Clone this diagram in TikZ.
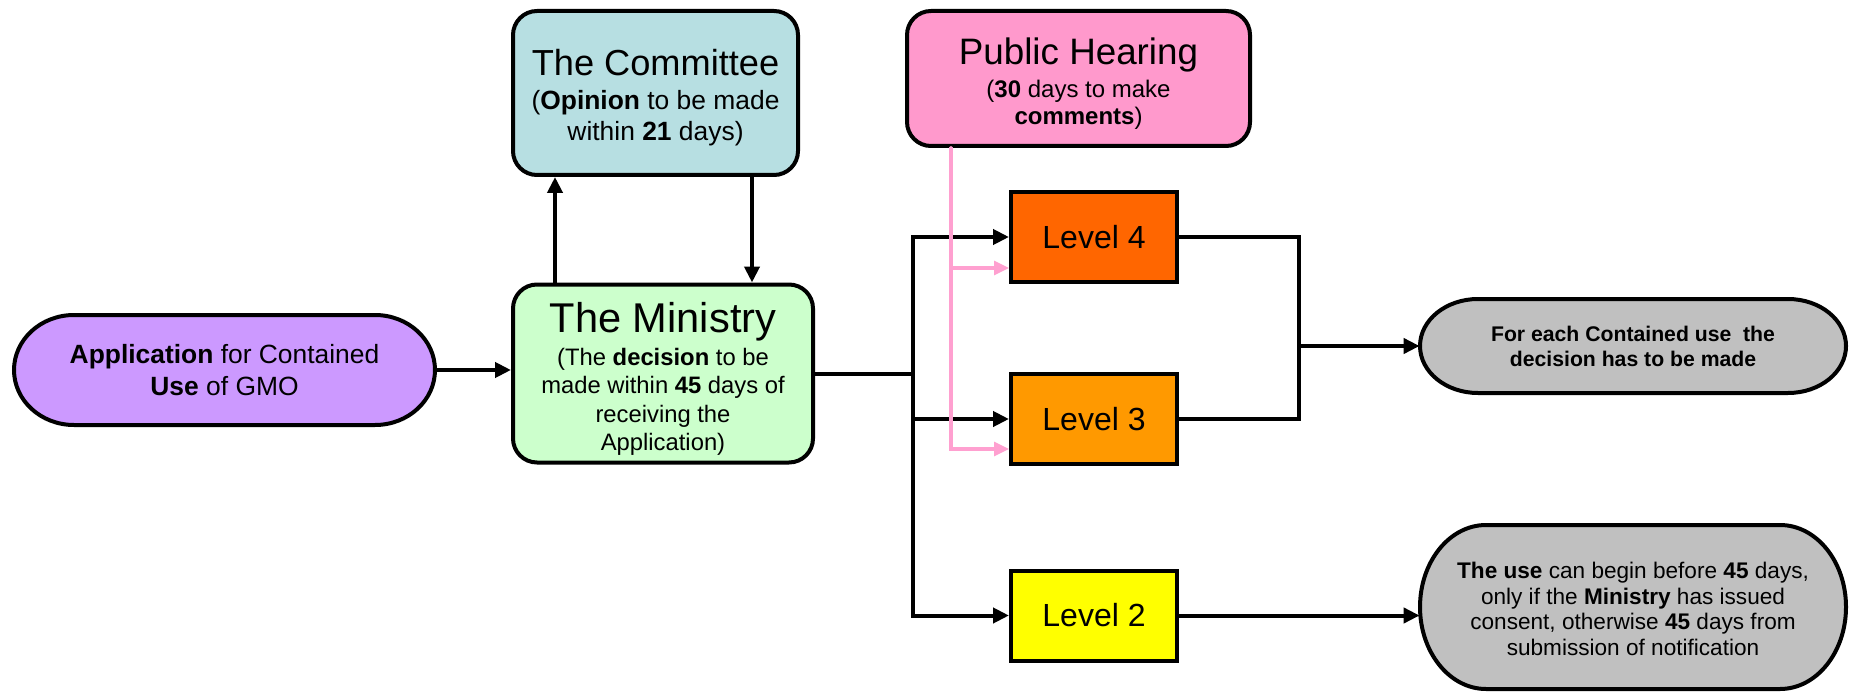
\documentclass[tikz,border=0pt]{standalone}
\usepackage{fontspec}
\setmainfont{Liberation Sans}
\usetikzlibrary{arrows.meta}

\begin{document}
\begin{tikzpicture}
		[x=0.5pt,y=0.5pt,line cap=round,
		%Styles
		box/.style={draw,line width=2pt,align=center,inner sep=0pt},
		office/.style={box,rounded corners=12pt},
		level/.style={box,minimum width=83pt,minimum height=45pt,font=\fontsize{16}{19}\selectfont},
		terminal/.style={draw,line width=2pt},
		flow/.style={line width=2pt,-{Triangle[length=8pt,width=7.5pt]}},
		link/.style={line width=2pt},
		comment/.style={draw=commentpink,line width=1.6pt,-{Triangle[length=7.5pt,width=7pt]}}
		]
		
		%Colors
		\definecolor{appviolet}{HTML}{CC99FF}
		\definecolor{ministrygreen}{HTML}{CCFFCC}
		\definecolor{committeeblue}{HTML}{B7DFE2}
		\definecolor{hearingpink}{HTML}{FF99CC}
		\definecolor{commentpink}{HTML}{FFA0D0}
		\definecolor{levelfour}{HTML}{FF6600}
		\definecolor{levelthree}{HTML}{FF9900}
		\definecolor{leveltwo}{HTML}{FFFF00}
		\definecolor{resultgray}{HTML}{C0C0C0}
		
		\useasboundingbox (0,0) rectangle (1851,692);
		
		%Terminator outlines
		\filldraw[terminal,fill=appviolet] (74,377) -- (375,377) arc[start angle=90,end angle=-90,x radius=60,y radius=55] -- (74,267) arc[start angle=270,end angle=90,x radius=60,y radius=55] -- cycle;
		\filldraw[terminal,fill=resultgray] (1478,393) -- (1788,393) arc[start angle=90,end angle=-90,x radius=58,y radius=47] -- (1478,299) arc[start angle=270,end angle=90,x radius=58,y radius=47] -- cycle;
		\filldraw[terminal,fill=resultgray] (1486,167) -- (1780,167) arc[start angle=90,end angle=-90,x radius=66,y radius=82] -- (1486,3) arc[start angle=270,end angle=90,x radius=66,y radius=82] -- cycle;
		
		%The graphic
		\node[align=center,inner sep=0pt,minimum width=210.5pt,minimum height=55pt,font=\fontsize{13.2}{15.8}\selectfont] (app) at (224.5,322) {\textbf{Application} for Contained\\\textbf{Use} of GMO};
		
		\node[office,fill=ministrygreen,minimum width=150pt,minimum height=89pt,font=\fontsize{11.9}{14.25}\selectfont] (ministry) at (663,318.5) {\rule{0pt}{20.3pt}{\fontsize{20.8}{24}\selectfont The Ministry}\\[2.25pt](The \textbf{decision} to be\\made within \textbf{45} days of\\receiving the\\Application)};
		
		\node[office,fill=committeeblue,minimum width=142.5pt,minimum height=82pt,font=\fontsize{13.2}{15.5}\selectfont] (committee) at (655.5,599) {\rule{0pt}{17.5pt}{\fontsize{18.1}{21}\selectfont The Committee}\\[1.5pt](\textbf{Opinion} to be made\\within \textbf{21} days)};
		
		\node[office,fill=hearingpink,minimum width=171.5pt,minimum height=67.5pt,font=\fontsize{12}{13.5}\selectfont] (hearing) at (1078.5,613.5) {\rule{0pt}{18.25pt}{\fontsize{18.4}{21}\selectfont Public Hearing}\\[3pt](\textbf{30} days to make\\\textbf{comments})};
		
		\node[level,fill=levelfour] (lvl4) at (1094,455) {Level 4};
		\node[level,fill=levelthree] (lvl3) at (1094,273) {Level 3};
		\node[level,fill=leveltwo] (lvl2) at (1094,76.5) {Level 2};
		
		\node[align=center,inner sep=0pt,minimum width=213pt,minimum height=47pt,font=\bfseries\fontsize{10.6}{12.5}\selectfont] (gray1) at (1633,346) {For each Contained use~ the\\decision has to be made};
		\node[align=center,inner sep=0pt,minimum width=213pt,minimum height=82pt,font=\fontsize{11.3}{12.75}\selectfont] (gray2) at (1633,83) {\textbf{The use} can begin before \textbf{45} days,\\only if the \textbf{Ministry} has issued\\consent, otherwise \textbf{45} days from\\submission of notification};
		
		\coordinate (split) at (913,318.5);
		\coordinate (merge) at (1299,346);
		
		\draw[flow] (app.east) -- (app.east -| ministry.west);
		\draw[flow] ([xshift=-54pt]ministry.north) -- ([xshift=-54pt]ministry.north |- committee.south);
		\draw[flow] ([xshift=44.5pt]ministry.north |- committee.south) -- ([xshift=44.5pt]ministry.north);
		
		\draw[flow] (ministry.east) -- (split) |- (lvl4.west);
		\draw[flow] (split) |- (lvl3.west);
		\draw[flow] (split) |- (lvl2.west);
		
		\draw[link] (lvl4.east) -| (merge);
		\draw[link] (lvl3.east) -| (merge);
		\draw[flow] (merge) -- (gray1.west);
		\draw[flow] (lvl2.east) -- (lvl2.east -| gray2.west);
		
		\draw[comment] ([xshift=-63.75pt]hearing.south) |- ([yshift=-15.5pt]lvl4.west);
		\draw[comment] ([xshift=-63.75pt]hearing.south) |- ([yshift=-15pt]lvl3.west);
	\end{tikzpicture}
\end{document}
